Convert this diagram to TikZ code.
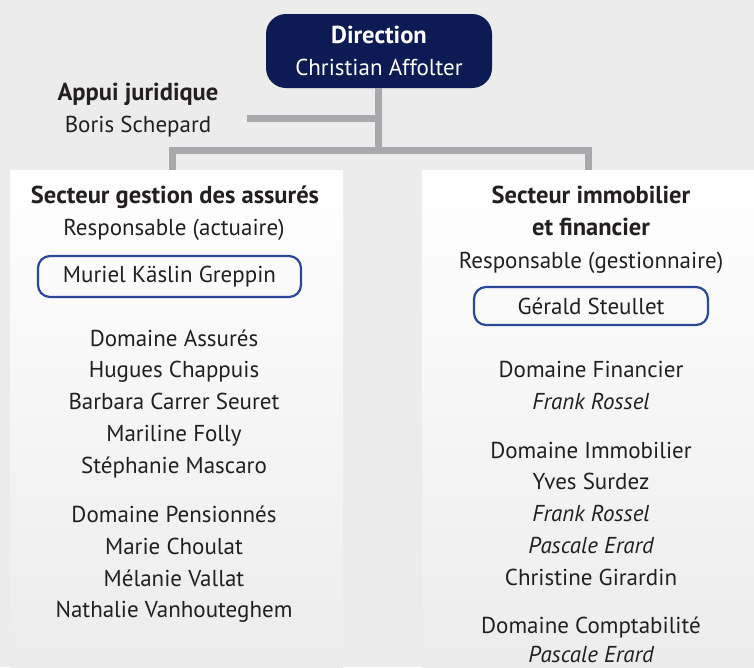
\documentclass[tikz,border=0pt]{standalone}
\usepackage{fontspec}
\setmainfont{PT Sans}
\definecolor{bg}{HTML}{ECECEC}
\definecolor{navy}{HTML}{0D1B54}
\definecolor{conn}{HTML}{A7A9AC}
\definecolor{boxblue}{HTML}{2B4797}
\definecolor{ink}{HTML}{231F20}
\newcommand{\fs}{\fontsize{23}{32}\selectfont}
\newcommand{\fb}{\fontsize{24.5}{32}\selectfont\bfseries}
\tikzset{
  txt/.style={anchor=base, inner sep=0pt, font=\fs, text=ink},
  ttl/.style={txt, font=\fb},
  ital/.style={txt, font=\fs\itshape},
  conline/.style={draw=conn, line width=7pt},
  panel/.style={inner sep=0pt, top color=white, bottom color=bg, draw=none},
  person/.style={draw=boxblue, line width=2.2pt, rounded corners=12pt, inner sep=0pt, font=\fs, text=ink},
  dirbox/.style={fill=navy, rounded corners=20pt, inner sep=0pt, minimum width=226pt, minimum height=74pt, align=center, text=white, font=\fs}
}
\begin{document}
\begin{tikzpicture}[x=1pt,y=-1pt]
\useasboundingbox (0,0) rectangle (754,667);
\fill[bg] (0,0) rectangle (754,667);
% direction
\node[dirbox] (dir) at (379,51) {{\fb Direction}\\Christian Affolter};
% connectors
\coordinate (bl) at (172,150);
\coordinate (br) at (588,150);
\coordinate (tj) at (378,118);
\coordinate (aj) at (247,118);
\draw[conline] (dir.south -| tj) -- (tj |- bl);
\draw[conline] (aj) -- (tj);
\draw[conline, line join=miter] (172,175) -- (bl) -- (br) -- (588,175);
% panels
\node[panel, minimum width=333pt, minimum height=497pt] (lp) at (176.5,418.5) {};
\node[panel, minimum width=332pt, minimum height=497pt] (rp) at (588,418.5) {};
% appui
\node[ttl] (aj1) at (138,100) {Appui juridique};
\node[txt] (aj2) at (138,132) {Boris Schepard};
% left panel
\node[ttl] (l1) at (175,203) {Secteur gestion des assurés};
\node[txt] (l2) at (174,235) {Responsable (actuaire)};
\node[person, minimum width=263pt, minimum height=41pt] (lb) at (169.5,276.5) {Muriel Käslin Greppin};
\node[txt] (l3) at (174,346) {Domaine Assurés};
\node[txt] (l4) at (174,377) {Hugues Chappuis};
\node[txt] (l5) at (174,409) {Barbara Carrer Seuret};
\node[txt] (l6) at (174,441) {Mariline Folly};
\node[txt] (l7) at (174,473) {Stéphanie Mascaro};
\node[txt] (l8) at (174,522) {Domaine Pensionnés};
\node[txt] (l9) at (174,554) {Marie Choulat};
\node[txt] (l10) at (174,586) {Mélanie Vallat};
\node[txt] (l11) at (174,617) {Nathalie Vanhouteghem};
% right panel
\node[ttl] (r1) at (591,203) {Secteur immobilier};
\node[ttl] (r2) at (591,235) {et financier};
\node[txt] (r3) at (591,268) {Responsable (gestionnaire)};
\node[person, minimum width=234pt, minimum height=38pt] (rb) at (591,306) {Gérald Steullet};
\node[txt] (r4) at (591,377) {Domaine Financier};
\node[ital] (r5) at (591,409) {Frank Rossel};
\node[txt] (r6) at (591,458) {Domaine Immobilier};
\node[txt] (r7) at (591,489) {Yves Surdez};
\node[ital] (r8) at (591,521) {Frank Rossel};
\node[ital] (r9) at (591,553) {Pascale Erard};
\node[txt] (r10) at (591,585) {Christine Girardin};
\node[txt] (r11) at (591,633) {Domaine Comptabilité};
\node[ital] (r12) at (591,662) {Pascale Erard};
\end{tikzpicture}
\end{document}
